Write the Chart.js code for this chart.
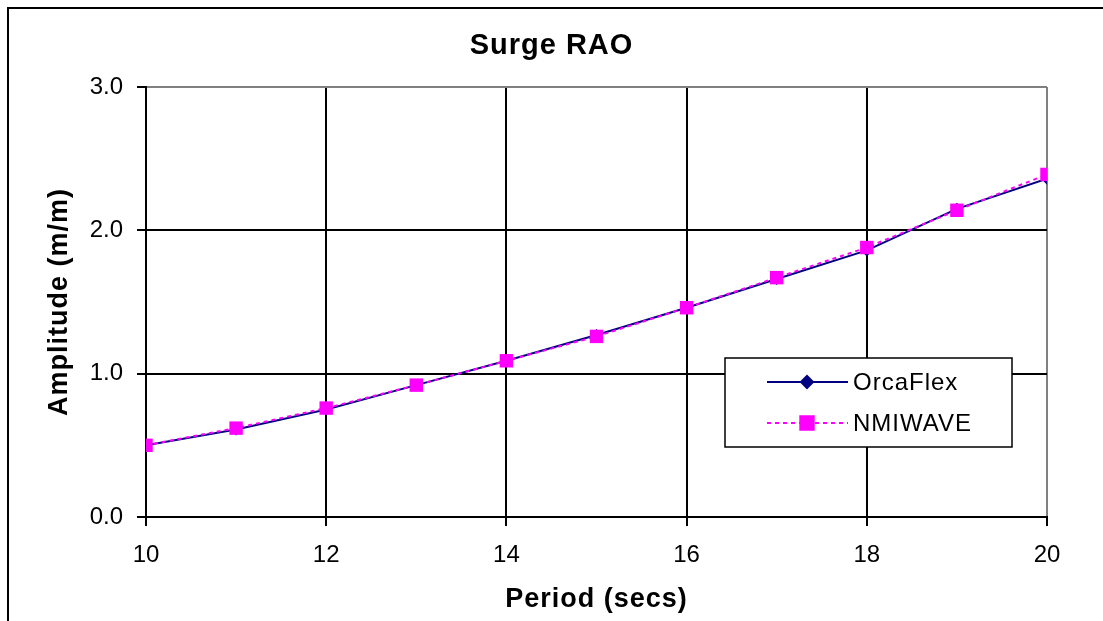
<!DOCTYPE html>
<html lang="en">
<head>
  <meta charset="UTF-8">
  <title>Surge RAO</title>
  <script src="https://cdn.jsdelivr.net/npm/chart.js"></script>
  <style>
    body { margin: 0; background: #fff; }
  </style>
</head>
<body>
  <canvas id="raoChart" width="1103" height="621"></canvas>

  <script>
    // periodos (s) y amplitudes
    const periods = [10, 11, 12, 13, 14, 15, 16, 17, 18, 19, 20];
    const orcaFlex = [0.50, 0.61, 0.75, 0.92, 1.09, 1.27, 1.46, 1.66, 1.86, 2.15, 2.36];
    const nmiWave = [0.50, 0.62, 0.76, 0.92, 1.09, 1.26, 1.46, 1.67, 1.88, 2.14, 2.39];
    const yTicks = [0.0, 1.0, 2.0, 3.0];
    const xTicks = [10, 12, 14, 16, 18, 20];

    const toPoints = vals => periods.map((p, i) => ({ x: p, y: vals[i] }));

    // titulos un poco espaciados, etiquetas de ejes sin espaciado
    const spacing = {
      id: 'spacing',
      beforeDraw(chart) { chart.ctx.letterSpacing = '1px'; },
      beforeDatasetsDraw(chart) { chart.ctx.letterSpacing = '0px'; }
    };

    // marco exterior + leyenda dentro del area
    const frameAndLegend = {
      id: 'frameAndLegend',
      afterDraw(chart) {
        const ctx = chart.ctx;
        ctx.save();
        ctx.strokeStyle = '#000';
        ctx.lineWidth = 2;
        ctx.strokeRect(8, 8, 1200, 800);

        const bx = 725, by = 358, bw = 287, bh = 89;
        ctx.fillStyle = '#fff';
        ctx.fillRect(bx, by, bw, bh);
        ctx.lineWidth = 1.5;
        ctx.strokeRect(bx, by, bw, bh);

        const items = [chart.data.datasets[1], chart.data.datasets[0]];
        items.forEach((ds, i) => {
          const y = by + 24 + i * 41;
          ctx.strokeStyle = ds.borderColor;
          ctx.lineWidth = ds.borderWidth;
          ctx.setLineDash(ds.borderDash || []);
          ctx.beginPath();
          ctx.moveTo(767, y);
          ctx.lineTo(848, y);
          ctx.stroke();
          ctx.setLineDash([]);
          Chart.helpers.drawPoint(ctx, {
            pointStyle: ds.pointStyle,
            radius: ds.pointRadius,
            borderWidth: 1
          }, 807, y);
          ctx.fillStyle = ds.pointBackgroundColor;
          ctx.fill();
          ctx.fillStyle = '#000';
          ctx.letterSpacing = '1px';
          ctx.font = '24px "Liberation Sans", Arial, sans-serif';
          ctx.textBaseline = 'middle';
          ctx.textAlign = 'left';
          ctx.fillText(ds.label, 853, y + 1);
        });
        ctx.restore();
      }
    };

    const family = '"Liberation Sans", Arial, sans-serif';
    const tickFont = { family: family, size: 24 };
    const axisTitleFont = { family: family, size: 27, weight: 'bold' };

    const ctx = document.getElementById('raoChart').getContext('2d');
    new Chart(ctx, {
      type: 'line',
      data: {
        datasets: [{
          label: 'NMIWAVE',
          data: toPoints(nmiWave),
          borderColor: '#ff00ff',
          backgroundColor: '#ff00ff',
          pointBackgroundColor: '#ff00ff',
          pointBorderColor: '#ff00ff',
          borderWidth: 2,
          borderDash: [4, 4],
          pointStyle: 'rect',
          pointRadius: 9.5,
          pointBorderWidth: 0,
          tension: 0,
          order: 1
        }, {
          label: 'OrcaFlex',
          data: toPoints(orcaFlex),
          borderColor: '#000080',
          backgroundColor: '#000080',
          pointBackgroundColor: '#000080',
          pointBorderColor: '#000080',
          borderWidth: 2,
          pointStyle: 'rectRot',
          pointRadius: 6,
          pointBorderWidth: 0,
          tension: 0,
          order: 2
        }]
      },
      options: {
        responsive: false,
        animation: false,
        layout: { padding: 0 },
        plugins: {
          legend: { display: false },
          tooltip: { enabled: false },
          title: {
            display: true,
            text: 'Surge RAO',
            color: '#000',
            font: { family: family, size: 29, weight: 'bold' },
            padding: { top: 29, bottom: 23.2 }
          }
        },
        scales: {
          x: {
            type: 'linear',
            min: 10,
            max: 20,
            afterBuildTicks: s => { s.ticks = xTicks.map(v => ({ value: v })); },
            afterFit: s => { s.height = 104; },
            ticks: { color: '#000', font: tickFont, padding: 15, z: 1 },
            grid: {
              color: c => c.tick && c.tick.value === 20 ? '#808080' : '#000',
              tickColor: '#000',
              lineWidth: 2,
              tickLength: 9,
              z: -1
            },
            border: { color: '#000', width: 2 },
            title: {
              display: true,
              text: 'Period (secs)',
              color: '#000',
              font: axisTitleFont,
              padding: { top: 0, bottom: 5 }
            }
          },
          y: {
            min: 0,
            max: 3,
            afterBuildTicks: s => { s.ticks = yTicks.map(v => ({ value: v })); },
            afterFit: s => { s.width = 146; },
            ticks: { color: '#000', font: tickFont, padding: 14, z: 1, callback: v => v.toFixed(1) },
            grid: {
              color: c => c.tick && c.tick.value === 3 ? '#808080' : '#000',
              tickColor: '#000',
              lineWidth: 2,
              tickLength: 9,
              z: -1
            },
            border: { color: '#000', width: 2 },
            title: {
              display: true,
              text: 'Amplitude (m/m)',
              color: '#000',
              font: axisTitleFont,
              padding: { top: 43, bottom: 0 }
            }
          },
          // eje vacio a la derecha: solo reserva el margen derecho
          yRight: {
            position: 'right',
            min: 0,
            max: 3,
            afterFit: s => { s.width = 56; },
            ticks: { display: false },
            grid: { display: false, drawOnChartArea: false },
            border: { display: false }
          }
        }
      },
      plugins: [spacing, frameAndLegend]
    });
  </script>
</body>
</html>
